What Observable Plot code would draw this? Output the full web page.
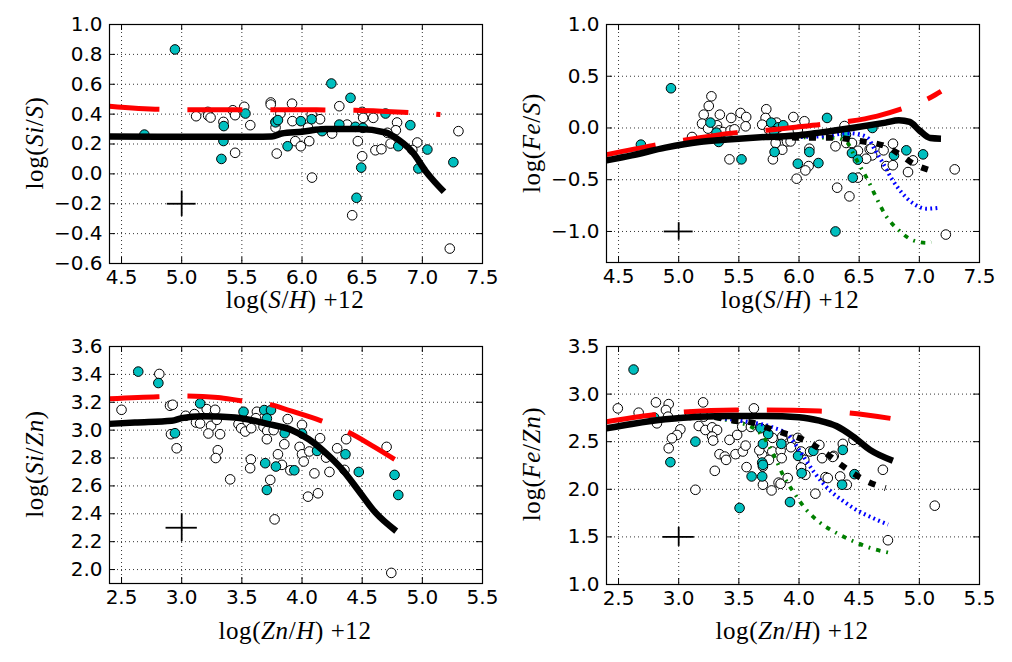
<!DOCTYPE html>
<html>
<head>
<meta charset="utf-8">
<script src="https://cdn.jsdelivr.net/npm/d3@7"></script>
<script src="https://cdn.jsdelivr.net/npm/@observablehq/plot@0.6"></script>
<style>
  html, body { margin: 0; padding: 0; background: white; }
  #wrap { position: relative; width: 1012px; height: 662px; overflow: hidden; background: white; }
  .box { position: absolute; width: 506px; height: 331px; }
  .lab { position: absolute; font-family: "Liberation Serif", serif; font-size: 25px; line-height: 0.6; white-space: nowrap; color: black; letter-spacing: 0.6px; }
  .xl { transform: translate(-50%, -50%); }
  .yl { transform: translate(-50%, -50%) rotate(-90deg); }
  .lab i { font-style: italic; }
</style>
</head>
<body>
<div id="wrap">
  <div class="box" id="pA" style="left:0;top:0"></div>
  <div class="box" id="pB" style="left:506px;top:0"></div>
  <div class="box" id="pC" style="left:0;top:331px"></div>
  <div class="box" id="pD" style="left:506px;top:331px"></div>
  <div class="lab xl" style="left:295px;top:299px">log(<i>S</i>/<i>H</i>) +12</div>
  <div class="lab xl" style="left:790px;top:299px">log(<i>S</i>/<i>H</i>) +12</div>
  <div class="lab xl" style="left:295px;top:630px">log(<i>Zn</i>/<i>H</i>) +12</div>
  <div class="lab xl" style="left:792px;top:630px">log(<i>Zn</i>/<i>H</i>) +12</div>
  <div class="lab yl" style="left:34px;top:143px">log(<i>Si</i>/<i>S</i>)</div>
  <div class="lab yl" style="left:531px;top:143px">log(<i>Fe</i>/<i>S</i>)</div>
  <div class="lab yl" style="left:34px;top:464px">log(<i>Si</i>/<i>Zn</i>)</div>
  <div class="lab yl" style="left:531px;top:464px">log(<i>Fe</i>/<i>Zn</i>)</div>
</div>
<script>
// ---------- Tick values ----------
const xTicksS = [4.5, 5.0, 5.5, 6.0, 6.5, 7.0, 7.5];
const xTicksZn = [2.5, 3.0, 3.5, 4.0, 4.5, 5.0, 5.5];
const yTicksSiS = [-0.6, -0.4, -0.2, 0.0, 0.2, 0.4, 0.6, 0.8, 1.0];
const yTicksFeS = [-1.0, -0.5, 0.0, 0.5, 1.0];
const yTicksSiZn = [2.0, 2.2, 2.4, 2.6, 2.8, 3.0, 3.2, 3.4, 3.6];
const yTicksFeZn = [1.0, 1.5, 2.0, 2.5, 3.0, 3.5];

// ---------- Panel A: log(Si/S) vs log(S/H)+12 ----------
const siS_open = [[5.12,0.386],[5.217,0.415],[5.22,0.39],[5.24,0.377],[5.347,0.348],[5.425,0.426],[5.444,0.393],[5.52,0.449],[5.57,0.326],[5.444,0.141],[5.74,0.478],[5.74,0.464],[5.82,0.404],[5.917,0.47],[5.78,0.348],[5.78,0.31],[5.79,0.136],[5.944,0.219],[5.92,0.353],[5.99,0.185],[6.31,0.453],[6.08,0.397],[6.15,0.366],[6.25,0.27],[6.375,0.33],[6.5,0.415],[6.508,0.375],[6.592,0.375],[6.79,0.344],[6.78,0.292],[6.71,0.275],[6.06,0.219],[6.464,0.219],[6.736,0.203],[6.958,0.21],[6.917,0.16],[7.3,0.286],[6.61,0.158],[6.66,0.165],[6.5,0.118],[6.083,-0.025],[6.417,-0.277],[7.228,-0.5],[6.05,0.31]];
const siS_cyan = [[4.944,0.833],[4.69,0.263],[5.35,0.32],[5.347,0.22],[5.33,0.1],[5.53,0.404],[5.78,0.345],[5.8,0.36],[5.99,0.353],[5.88,0.185],[6.244,0.605],[6.403,0.509],[6.08,0.366],[6.167,0.286],[6.31,0.33],[6.444,0.315],[6.506,0.308],[6.694,0.404],[6.9,0.326],[6.8,0.185],[7.042,0.163],[6.967,0.036],[7.258,0.078],[6.492,0.042],[6.453,-0.16]];
const siS_model = [[4.4,0.25],[5.0,0.248],[5.5,0.248],[5.75,0.25],[5.83,0.27],[6.0,0.282],[6.194,0.3],[6.472,0.3],[6.694,0.277],[6.806,0.226],[6.917,0.147],[7.028,0.018],[7.083,-0.036],[7.18,-0.12]];
const siS_red = [[4.4,0.453],[4.82,0.432],[5.06,0.43],[5.5,0.43],[6.0,0.43],[6.19,0.428],[6.44,0.426],[6.7,0.418],[6.9,0.41],[7.15,0.397]];
const siS_err = [{x: 5.0, y: -0.2, ex: 0.12, ey: 0.085}];

// ---------- Panel B: log(Fe/S) vs log(S/H)+12 ----------
const feS_open = [[5.111,-0.087],[5.272,0.306],[5.25,0.213],[5.208,0.129],[5.342,0.129],[5.194,0.042],[5.244,-0.006],[5.319,0.026],[5.333,-0.023],[5.367,-0.039],[5.436,0.097],[5.431,-0.023],[5.464,-0.013],[5.514,0.145],[5.561,0.106],[5.556,0.016],[5.422,-0.303],[5.728,0.181],[5.722,0.097],[5.694,0.032],[5.814,0.052],[5.75,-0.016],[5.953,0.106],[5.806,-0.145],[5.783,-0.303],[5.861,-0.21],[5.9,-0.13],[5.93,-0.13],[5.98,-0.49],[6.045,0.065],[6.378,0.019],[6.392,-0.145],[6.303,-0.177],[6.44,-0.145],[6.587,-0.206],[6.608,-0.265],[6.558,-0.297],[6.703,-0.216],[6.781,-0.152],[6.906,-0.426],[6.947,-0.313],[7.294,-0.4],[6.725,-0.368],[6.78,-0.36],[6.08,-0.368],[6.053,-0.41],[6.086,-0.2],[6.489,-0.48],[6.317,-0.577],[6.419,-0.661],[7.22,-1.03],[5.99,-0.02],[6.6,-0.2],[6.49,-0.22]];
const feS_cyan = [[4.936,0.384],[4.686,-0.161],[5.264,0.052],[5.314,-0.045],[5.333,-0.135],[5.522,-0.303],[5.769,0.052],[5.828,0.006],[5.869,0.026],[5.792,-0.032],[5.797,-0.232],[5.99,-0.345],[6.233,0.097],[6.39,-0.065],[6.44,-0.242],[6.489,-0.306],[6.789,-0.265],[6.892,-0.216],[7.031,-0.255],[6.161,-0.339],[6.086,-0.232],[6.447,-0.48],[6.303,-1.0],[6.61,0.0]];
const feS_model = [[4.4,-0.313],[4.61,-0.265],[4.89,-0.19],[5.17,-0.135],[5.44,-0.11],[5.72,-0.087],[6.0,-0.07],[6.17,-0.045],[6.44,0.0],[6.72,0.052],[6.83,0.074],[6.92,0.058],[7.0,-0.023],[7.09,-0.097],[7.18,-0.103]];
const feS_red = [[4.4,-0.258],[4.79,-0.168],[5.03,-0.12],[5.48,-0.045],[5.73,-0.022],[6.18,0.035],[6.42,0.065],[6.65,0.115],[6.86,0.187],[7.1,0.3],[7.18,0.355]];
const feS_dashed = [[5.8,-0.09],[6.04,-0.094],[6.29,-0.094],[6.49,-0.123],[6.725,-0.18],[6.83,-0.25],[6.95,-0.345],[7.09,-0.41]];
const feS_blue = [[5.8,-0.09],[6.2,-0.08],[6.41,-0.05],[6.49,-0.06],[6.575,-0.1],[6.625,-0.2],[6.71,-0.365],[6.77,-0.49],[6.83,-0.59],[6.95,-0.73],[7.06,-0.78],[7.17,-0.77]];
const feS_green = [[5.8,-0.09],[6.3,-0.095],[6.4,-0.14],[6.46,-0.27],[6.52,-0.395],[6.575,-0.51],[6.64,-0.668],[6.72,-0.845],[6.83,-0.99],[6.95,-1.087],[7.06,-1.11],[7.1,-1.1]];
const feS_err = [{x: 5.0, y: -1.0, ex: 0.12, ey: 0.085}];

// ---------- Panel C: log(Si/Zn) vs log(Zn/H)+12 ----------
const siZn_open = [[2.814,3.403],[2.5,3.146],[2.903,3.175],[2.925,3.182],[3.033,3.103],[3.106,3.115],[3.208,3.151],[3.278,3.146],[3.119,3.055],[3.153,3.048],[3.244,3.031],[3.292,3.074],[3.222,2.976],[3.319,2.971],[2.911,2.971],[2.958,2.87],[3.3,2.856],[3.283,2.8],[3.403,2.647],[3.625,3.132],[3.472,3.043],[3.494,3.014],[3.528,2.99],[3.578,3.014],[3.617,3.086],[3.68,3.024],[3.711,2.995],[3.764,3.0],[3.708,2.935],[3.881,3.079],[3.575,2.79],[3.569,2.727],[3.833,2.751],[3.8,2.827],[3.853,2.899],[3.903,2.712],[3.736,2.643],[3.772,2.36],[3.98,2.88],[4.0,3.038],[4.15,2.942],[4.0,2.827],[4.014,2.775],[4.061,2.847],[4.2,2.803],[4.292,2.87],[4.367,2.935],[4.103,2.69],[4.228,2.7],[4.353,2.715],[4.05,2.523],[4.133,2.547],[4.703,2.88],[4.742,1.976]];
const siZn_cyan = [[2.639,3.42],[2.806,3.338],[3.153,3.192],[2.944,2.978],[3.514,3.132],[3.686,3.144],[3.742,3.144],[3.708,3.084],[3.856,2.978],[3.694,2.763],[3.783,2.739],[3.936,2.712],[3.708,2.571],[4.0,2.976],[4.125,2.851],[4.361,2.827],[4.472,2.7],[4.769,2.679],[4.8,2.535]];
const siZn_model = [[2.4,3.045],[2.611,3.055],[2.917,3.067],[3.0,3.086],[3.167,3.1],[3.444,3.091],[3.722,3.043],[3.917,3.0],[4.056,2.935],[4.194,2.839],[4.333,2.719],[4.472,2.564],[4.611,2.408],[4.783,2.276]];
const siZn_red = [[2.4,3.225],[2.8,3.24],[3.0,3.245],[3.3,3.235],[3.49,3.211],[3.72,3.187],[3.9,3.14],[4.16,3.067],[4.375,2.99],[4.6,2.88],[4.77,2.79]];
const siZn_err = [{x: 3.0, y: 2.3, ex: 0.13, ey: 0.1}];

// ---------- Panel D: log(Fe/Zn) vs log(Zn/H)+12 ----------
const feZn_open = [[2.494,2.85],[2.667,2.805],[2.811,2.913],[2.917,2.895],[2.894,2.833],[2.911,2.763],[2.819,2.693],[3.203,2.913],[3.097,2.78],[3.208,2.763],[3.014,2.63],[2.986,2.571],[2.944,2.536],[2.917,2.431],[3.139,1.995],[3.167,2.665],[3.222,2.623],[3.278,2.651],[3.319,2.623],[3.278,2.554],[3.286,2.512],[3.422,2.519],[3.486,2.571],[3.339,2.369],[3.383,2.344],[3.394,2.309],[3.472,2.369],[3.533,2.397],[3.556,2.459],[3.3,2.194],[3.564,2.233],[3.625,2.85],[3.528,2.658],[3.6,2.655],[3.694,2.362],[3.778,2.397],[3.75,2.309],[3.7,2.048],[3.772,1.988],[3.83,2.07],[3.847,2.058],[3.847,2.407],[3.856,2.327],[3.861,2.554],[3.944,2.519],[3.933,2.442],[4.017,2.397],[4.044,2.309],[4.017,2.229],[4.053,2.152],[4.092,2.397],[4.169,2.466],[4.192,2.327],[4.289,2.351],[4.22,2.128],[4.239,2.118],[4.136,1.954],[4.364,2.477],[4.453,2.519],[4.342,2.135],[4.397,2.048],[4.697,2.205],[4.739,1.465],[5.128,1.828],[3.906,2.118],[3.67,2.41],[3.7,2.24],[3.78,2.54],[3.99,2.54],[4.28,2.34]];
const feZn_cyan = [[2.625,3.258],[2.797,2.752],[3.139,2.501],[2.931,2.285],[3.606,2.135],[3.506,1.804],[3.681,2.641],[3.744,2.581],[3.7,2.477],[3.694,2.281],[3.7,2.257],[3.694,2.135],[3.853,2.477],[3.925,1.866],[3.992,2.351],[4.022,2.17],[4.119,2.404],[4.364,2.414],[4.358,2.048],[4.461,2.159]];
const feZn_model = [[2.4,2.641],[2.611,2.686],[2.889,2.735],[3.167,2.763],[3.444,2.77],[3.72,2.77],[4.0,2.758],[4.17,2.721],[4.31,2.665],[4.45,2.554],[4.59,2.414],[4.78,2.3]];
const feZn_red = [[2.4,2.71],[2.78,2.78],[3.01,2.808],[3.47,2.833],[3.71,2.833],[4.17,2.822],[4.4,2.805],[4.76,2.745]];
const feZn_dashed = [[3.3,2.76],[3.46,2.72],[3.625,2.697],[3.742,2.644],[3.867,2.592],[4.0,2.54],[4.117,2.467],[4.242,2.362],[4.35,2.257],[4.586,2.072],[4.72,2.013]];
const feZn_blue = [[3.3,2.755],[3.46,2.73],[3.62,2.7],[3.78,2.651],[3.91,2.57],[4.017,2.383],[4.125,2.18],[4.267,1.975],[4.375,1.87],[4.45,1.804],[4.61,1.7],[4.74,1.63]];
const feZn_green = [[3.3,2.75],[3.46,2.71],[3.62,2.644],[3.71,2.54],[3.79,2.36],[3.875,2.13],[3.96,1.96],[4.06,1.786],[4.17,1.654],[4.31,1.542],[4.45,1.455],[4.59,1.385],[4.75,1.333]];
const feZn_err = [{x: 3.0, y: 1.5, ex: 0.13, ey: 0.1}];

// ---------- Styles ----------
const CYAN = "#00bfbf";
const styles = {
  model:  {stroke: "black", strokeWidth: 6.5},
  red:    {stroke: "#ff0000", strokeWidth: 5, strokeDasharray: "55,28", strokeDashoffset: 5},
  dashed: {stroke: "black", strokeWidth: 6, strokeDasharray: "7,10"},
  blue:   {stroke: "#0000ff", strokeWidth: 4, strokeDasharray: "1.8,3.4"},
  green:  {stroke: "#008000", strokeWidth: 3.8, strokeDasharray: "4.5,6,1.8,6"}
};

function panel(cfg) {
  const {xDomain, yDomain, xTicks, yTicks, open, cyan, lines, err, m} = cfg;
  const W = 506, H = 331;
  const tkx = (xDomain[1] - xDomain[0]) * 6 / (W - m.l - m.r);
  const tky = (yDomain[1] - yDomain[0]) * 6 / (H - m.t - m.b);
  const fmt = d3.format(".1f");
  const marks = [
    Plot.gridX(xTicks, {stroke: "black", strokeOpacity: 1, strokeWidth: 0.8, strokeDasharray: "1,3"}),
    Plot.gridY(yTicks, {stroke: "black", strokeOpacity: 1, strokeWidth: 0.8, strokeDasharray: "1,3"}),
    Plot.dot(open, {x: d => d[0], y: d => d[1], r: 4.8, fill: "white", stroke: "black", strokeWidth: 1}),
    Plot.dot(cyan, {x: d => d[0], y: d => d[1], r: 4.8, fill: CYAN, stroke: "black", strokeWidth: 1})
  ];
  for (const [data, key] of lines) {
    marks.push(Plot.line(data, {x: d => d[0], y: d => d[1], curve: "monotone-x", clip: true,
      strokeLinecap: "butt", strokeLinejoin: "round", ...styles[key]}));
  }
  marks.push(
    Plot.ruleY(err, {y: d => d.y, x1: d => d.x - d.ex, x2: d => d.x + d.ex, stroke: "black", strokeWidth: 1.8}),
    Plot.ruleX(err, {x: d => d.x, y1: d => d.y - d.ey, y2: d => d.y + d.ey, stroke: "black", strokeWidth: 1.8}),
    Plot.ruleX(xTicks, {x: d => d, y1: yDomain[0], y2: yDomain[0] + tky, stroke: "black", strokeWidth: 1}),
    Plot.ruleX(xTicks, {x: d => d, y1: yDomain[1] - tky, y2: yDomain[1], stroke: "black", strokeWidth: 1}),
    Plot.ruleY(yTicks, {y: d => d, x1: xDomain[0], x2: xDomain[0] + tkx, stroke: "black", strokeWidth: 1}),
    Plot.ruleY(yTicks, {y: d => d, x1: xDomain[1] - tkx, x2: xDomain[1], stroke: "black", strokeWidth: 1}),
    Plot.axisX(xTicks, {tickSize: 0, tickPadding: 6, tickFormat: fmt, label: null, fontSize: 20, fill: "black"}),
    Plot.axisY(yTicks, {tickSize: 0, tickPadding: 7, tickFormat: fmt, label: null, fontSize: 20, fill: "black"}),
    Plot.frame({stroke: "black", strokeWidth: 1.2})
  );
  return Plot.plot({
    width: W, height: H,
    marginLeft: m.l, marginRight: m.r, marginTop: m.t, marginBottom: m.b,
    x: {domain: xDomain},
    y: {domain: yDomain},
    style: {fontFamily: "DejaVu Sans", fontSize: "20px", background: "transparent", color: "black", overflow: "visible"},
    marks
  });
}

document.getElementById("pA").append(panel({
  xDomain: [4.4, 7.5], yDomain: [-0.6, 1.0], xTicks: xTicksS, yTicks: yTicksSiS,
  open: siS_open, cyan: siS_cyan, err: siS_err,
  lines: [[siS_red, "red"], [siS_model, "model"]],
  m: {l: 109, r: 24, t: 24, b: 68}
}));
document.getElementById("pB").append(panel({
  xDomain: [4.4, 7.5], yDomain: [-1.3, 1.0], xTicks: xTicksS, yTicks: yTicksFeS,
  open: feS_open, cyan: feS_cyan, err: feS_err,
  lines: [[feS_red, "red"], [feS_green, "green"], [feS_blue, "blue"], [feS_dashed, "dashed"], [feS_model, "model"]],
  m: {l: 100, r: 33, t: 24, b: 69}
}));
document.getElementById("pC").append(panel({
  xDomain: [2.4, 5.5], yDomain: [1.9, 3.6], xTicks: xTicksZn, yTicks: yTicksSiZn,
  open: siZn_open, cyan: siZn_cyan, err: siZn_err,
  lines: [[siZn_red, "red"], [siZn_model, "model"]],
  m: {l: 109, r: 24, t: 15, b: 79}
}));
document.getElementById("pD").append(panel({
  xDomain: [2.4, 5.5], yDomain: [1.0, 3.5], xTicks: xTicksZn, yTicks: yTicksFeZn,
  open: feZn_open, cyan: feZn_cyan, err: feZn_err,
  lines: [[feZn_red, "red"], [feZn_green, "green"], [feZn_blue, "blue"], [feZn_dashed, "dashed"], [feZn_model, "model"]],
  m: {l: 100, r: 33, t: 15, b: 78}
}));
</script>
</body>
</html>
